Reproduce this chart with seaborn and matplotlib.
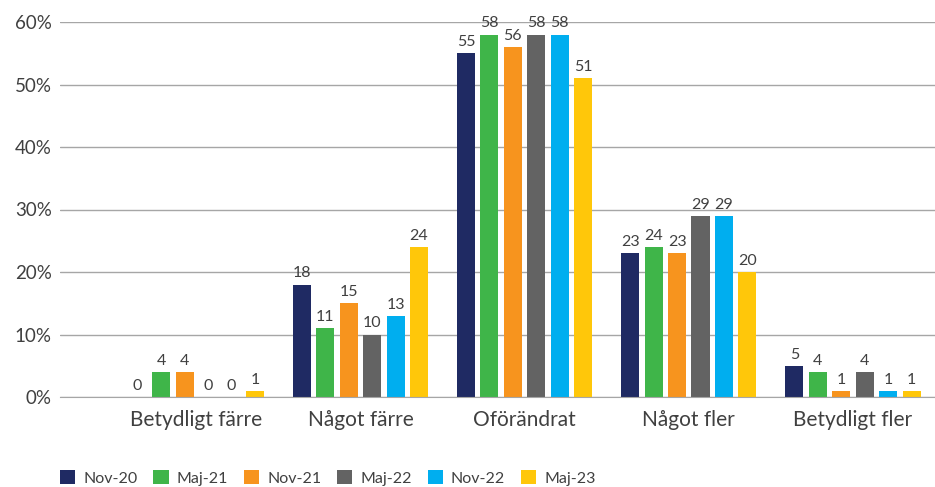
import pandas as pd
import numpy as np
import matplotlib.pyplot as plt
import seaborn as sns

# data
categories = ["Betydligt färre", "Något färre", "Oförändrat", "Något fler", "Betydligt fler"]
periods = ["Nov-20", "Maj-21", "Nov-21", "Maj-22", "Nov-22", "Maj-23"]
nov20 = [0, 18, 55, 23, 5]
maj21 = [4, 11, 58, 24, 4]
nov21 = [4, 15, 56, 23, 1]
maj22 = [0, 10, 58, 29, 4]
nov22 = [0, 13, 58, 29, 1]
maj23 = [1, 24, 51, 20, 1]
colors = ["#1f2a63", "#3fb549", "#f7941e", "#636363", "#00aeef", "#ffc70a"]

series = [nov20, maj21, nov21, maj22, nov22, maj23]
rows = []
for p, vals in zip(periods, series):
    for c, v in zip(categories, vals):
        rows.append({"Kategori": c, "Period": p, "Andel": v})
df = pd.DataFrame(rows)

sns.set_style("white")
plt.rcParams["font.family"] = ["Lato", "DejaVu Sans"]
txt = "#404040"

fig = plt.figure(figsize=(9.35, 4.87), dpi=100)
ax = fig.add_axes([60 / 935, 90 / 487, 875 / 935, 375 / 487])

sns.barplot(data=df, x="Kategori", y="Andel", hue="Period", order=categories,
            hue_order=periods, palette=colors, width=0.857, gap=0.23,
            saturation=1, linewidth=0, ax=ax, legend=True)

for cont in ax.containers:
    ax.bar_label(cont, fmt="%d", padding=3, fontsize=11.5, color=txt, clip_on=False)

ax.set_ylim(0, 60)
ax.set_xlim(-0.83, 4.5)
ax.set_yticks(np.arange(0, 61, 10))
ax.set_yticklabels([f"{v}%" for v in range(0, 61, 10)], fontsize=13.5, color=txt)
ax.tick_params(axis="x", labelsize=15, colors=txt, length=0, pad=9)
ax.tick_params(axis="y", length=0, pad=6)
ax.yaxis.grid(True, color="#a6a6a6", linewidth=1)
ax.set_axisbelow(True)
for s in ["top", "right", "left"]:
    ax.spines[s].set_visible(False)
ax.spines["bottom"].set_color("#a6a6a6")
ax.set_xlabel("")
ax.set_ylabel("")

handles, labels = ax.get_legend_handles_labels()
ax.get_legend().remove()
fig.legend(handles, labels, loc="center left", bbox_to_anchor=(60 / 935, 1 - 478 / 487),
           ncol=6, frameon=False, fontsize=11.5, labelcolor=txt,
           borderaxespad=0, borderpad=0,
           handlelength=0.95, handleheight=0.95, columnspacing=1.0, handletextpad=0.5)

fig.savefig("out.png", dpi=100)
